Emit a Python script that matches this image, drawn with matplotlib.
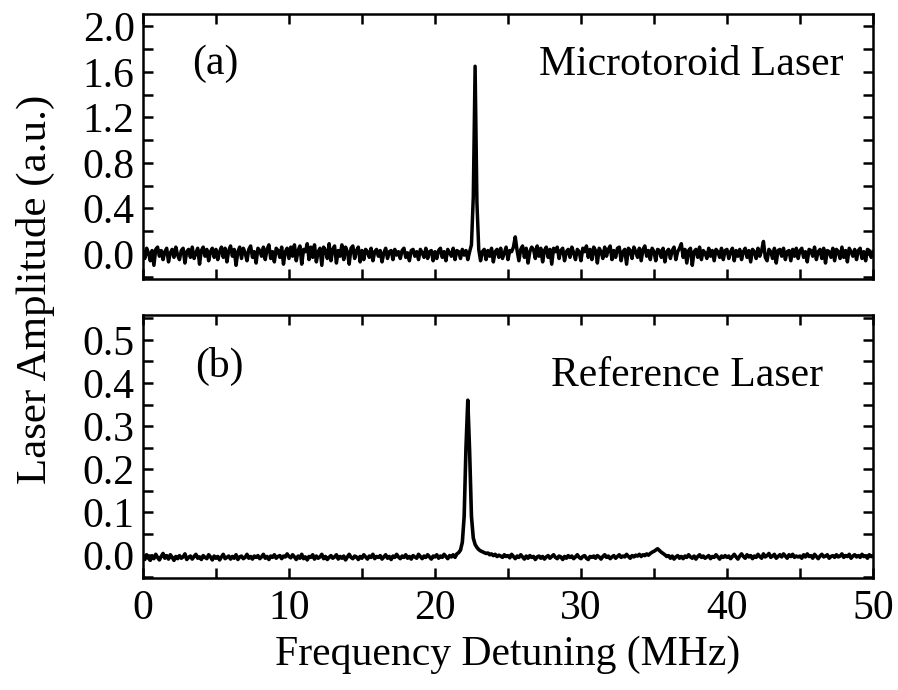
import numpy as np
import matplotlib.pyplot as plt
from matplotlib.ticker import MultipleLocator

# frequency grid (MHz), 0.125 MHz steps
freq = np.linspace(0, 50, 401)

# (a) microtoroid laser amplitude
micro = [
    0.02, -0.04, 0.05, 0.01, -0.06, 0.03, -0.10, 0.04, 0.06, -0.02,
    0.03, -0.05, 0.02, 0.05, -0.07, 0.01, 0.04, -0.03, 0.06, -0.01,
    -0.05, 0.03, 0.05, -0.08, 0.02, 0.04, -0.03, 0.06, -0.04, 0.01,
    0.05, -0.09, 0.03, 0.06, -0.02, 0.04, -0.06, 0.02, 0.05, -0.03,
    0.04, -0.05, 0.02, 0.06, -0.03, 0.05, -0.07, 0.03, 0.07, -0.02,
    0.04, -0.10, 0.02, 0.06, -0.04, 0.05, 0.01, -0.06, 0.04, 0.07,
    -0.03, 0.02, -0.08, 0.05, 0.03, -0.02, 0.06, -0.05, 0.04, 0.08,
    -0.04, 0.02, -0.07, 0.05, 0.03, -0.03, 0.06, -0.09, 0.02, 0.05,
    -0.04, 0.06, -0.02, 0.08, -0.06, 0.03, 0.07, -0.09, 0.04, 0.02,
    0.09, -0.05, 0.06, -0.03, 0.08, -0.07, 0.02, 0.05, -0.10, 0.06,
    0.03, -0.04, 0.09, -0.06, 0.04, 0.07, -0.08, 0.03, -0.02, 0.08,
    -0.05, 0.06, 0.02, -0.09, 0.05, 0.07, -0.04, 0.03, 0.06, -0.07,
    0.03, -0.05, 0.04, 0.02, -0.03, 0.05, -0.06, 0.02, 0.04, -0.02,
    0.03, -0.07, 0.01, 0.05, -0.04, 0.02, 0.03, -0.05, 0.04, -0.01,
    0.02, -0.04, 0.03, 0.05, -0.03, 0.01, -0.06, 0.03, 0.04, -0.02,
    0.02, -0.05, 0.04, 0.01, -0.03, 0.05, -0.04, 0.02, 0.03, -0.06,
    0.02, -0.04, 0.03, 0.05, -0.03, 0.02, -0.06, 0.04, 0.01, -0.02,
    0.05, -0.05, 0.03, 0.02, -0.04, 0.04, -0.01, 0.03, -0.05, 0.02,
    0.08, 0.50, 1.65, 0.45, 0.04, -0.06, 0.02, 0.04, -0.05, 0.03,
    -0.02, 0.05, -0.07, 0.02, 0.04, -0.03, 0.05, -0.04, 0.01, 0.06,
    -0.05, 0.03, 0.02, 0.06, 0.15, 0.03, -0.06, 0.04, 0.07, -0.03,
    0.05, -0.08, 0.02, 0.06, 0.04, -0.04, 0.07, -0.02, 0.05, -0.07,
    0.03, 0.06, -0.03, 0.04, -0.09, 0.05, 0.02, 0.06, -0.04, 0.03,
    0.05, -0.06, 0.02, 0.04, -0.03, 0.06, 0.01, -0.05, 0.04, 0.02,
    -0.06, 0.05, 0.02, 0.07, -0.03, 0.04, -0.05, 0.06, 0.03, -0.08,
    0.05, 0.02, -0.04, 0.06, -0.02, 0.04, 0.07, -0.05, 0.03, -0.03,
    0.05, 0.06, -0.06, 0.02, 0.04, -0.09, 0.05, 0.03, -0.04, 0.06,
    0.02, -0.03, 0.05, -0.06, 0.04, 0.07, -0.02, 0.03, -0.05, 0.05,
    0.02, -0.06, 0.04, 0.03, -0.03, 0.05, -0.07, 0.02, 0.04, -0.04,
    0.03, 0.06, -0.05, 0.02, 0.05, 0.09, -0.03, 0.04, -0.08, 0.03,
    0.05, -0.10, 0.02, 0.04, -0.03, 0.06, -0.05, 0.03, 0.01, -0.04,
    0.05, -0.02, 0.03, -0.06, 0.04, 0.02, -0.03, 0.05, -0.05, 0.03,
    0.04, -0.04, 0.02, 0.05, -0.06, 0.03, -0.02, 0.04, -0.05, 0.02,
    0.05, -0.03, 0.03, -0.07, 0.04, 0.02, -0.04, 0.05, -0.02, 0.03,
    0.11, -0.03, -0.06, 0.04, 0.02, -0.04, 0.05, -0.08, 0.03, 0.04,
    -0.02, 0.05, -0.05, 0.02, 0.03, -0.06, 0.04, -0.02, 0.05, -0.04,
    0.03, 0.05, -0.03, 0.02, -0.07, 0.04, 0.03, -0.02, 0.06, -0.05,
    0.02, 0.04, -0.04, 0.05, -0.08, 0.03, 0.02, -0.03, 0.05, -0.06,
    0.04, 0.02, -0.04, 0.06, -0.03, 0.03, -0.07, 0.05, 0.02, -0.02,
    0.04, -0.05, 0.03, 0.05, -0.04, 0.02, -0.06, 0.04, 0.03, -0.03,
    0.02,
]

# (b) reference laser amplitude
ref = [
    -0.004, -0.010, 0.001, -0.007, -0.012, -0.002, -0.008, 0.002, -0.005, -0.011,
    -0.003, 0.004, -0.007, -0.001, -0.009, 0.001, -0.005, -0.012, -0.003, -0.008,
    -0.001, -0.007, -0.004, 0.003, -0.010, -0.005, -0.002, -0.009, -0.003, 0.002,
    -0.007, -0.004, -0.010, -0.001, -0.005, -0.008, 0.001, -0.004, -0.011, -0.002,
    -0.007, -0.003, -0.011, -0.004, 0.002, -0.008, -0.005, -0.002, -0.009, -0.003,
    -0.007, 0.001, -0.010, -0.004, -0.002, -0.008, -0.005, 0.002, -0.007, -0.003,
    -0.009, -0.002, -0.005, -0.001, -0.008, -0.004, 0.002, -0.007, -0.003, -0.010,
    -0.002, -0.005, 0.001, -0.007, -0.003, -0.001, -0.008, -0.002, -0.004, 0.003,
    -0.003, -0.006, 0.001, -0.004, -0.010, -0.002, -0.007, 0.002, -0.008, -0.004,
    -0.011, -0.003, -0.005, 0.001, -0.009, -0.002, -0.007, -0.004, 0.002, -0.008,
    -0.003, -0.010, -0.005, -0.001, -0.007, -0.004, 0.001, -0.009, -0.003, -0.007,
    -0.002, -0.011, -0.004, 0.002, -0.005, -0.008, -0.002, -0.004, -0.010, -0.003,
    -0.007, 0.001, -0.004, -0.009, -0.002, -0.005, 0.002, -0.008, -0.003, -0.005,
    -0.001, -0.009, -0.004, 0.001, -0.007, -0.003, -0.010, -0.002, -0.005, 0.002,
    -0.004, -0.008, -0.002, -0.005, 0.001, -0.007, -0.003, -0.009, -0.001, -0.004,
    -0.007, 0.002, -0.003, -0.008, -0.002, -0.005, 0.001, -0.004, -0.009, -0.002,
    -0.004, 0.001, -0.007, -0.002, -0.005, 0.002, -0.003, -0.008, -0.001, -0.004,
    0.001, -0.005, 0.003, 0.006, 0.012, 0.030, 0.090, 0.250, 0.360, 0.240,
    0.090, 0.040, 0.025, 0.018, 0.013, 0.010, 0.008, 0.006, 0.004, 0.005,
    0.001, 0.003, -0.001, 0.002, -0.003, 0.000, -0.002, -0.005, 0.001, -0.003,
    -0.001, -0.006, 0.002, -0.003, -0.008, -0.002, -0.005, 0.001, -0.004, -0.009,
    -0.002, -0.007, -0.001, -0.005, -0.003, -0.010, -0.004, -0.002, -0.007, -0.003,
    -0.009, -0.004, -0.001, -0.007, -0.003, 0.001, -0.005, -0.008, -0.002, -0.004,
    -0.010, -0.003, -0.007, -0.001, -0.005, -0.002, -0.008, -0.004, 0.001, -0.005,
    -0.008, -0.003, -0.001, -0.007, -0.010, -0.003, -0.005, -0.002, -0.007, -0.001,
    -0.004, -0.009, -0.003, 0.001, -0.005, -0.002, -0.008, -0.004, -0.001, -0.007,
    -0.003, 0.001, -0.005, -0.002, -0.004, 0.002, -0.003, -0.007, -0.001, -0.004,
    0.000, -0.002, 0.002, -0.003, 0.001, -0.001, 0.003, 0.000, 0.004, 0.007,
    0.009, 0.012, 0.015, 0.011, 0.007, 0.004, 0.001, -0.003, -0.001, -0.007,
    -0.002, -0.009, -0.004, -0.001, -0.007, -0.003, -0.008, -0.002, -0.005, 0.001,
    -0.004, -0.007, -0.002, -0.009, -0.003, 0.001, -0.005, -0.002, -0.007, -0.004,
    -0.001, -0.008, -0.003, -0.005, 0.001, -0.004, -0.009, -0.002, -0.005, -0.001,
    -0.005, -0.002, -0.008, -0.003, 0.002, -0.004, -0.009, -0.002, 0.003, -0.003,
    -0.007, 0.001, -0.004, -0.001, -0.008, -0.002, -0.005, 0.002, -0.003, -0.007,
    0.003, -0.004, -0.001, 0.004, -0.005, -0.002, 0.002, -0.007, -0.003, 0.001,
    -0.004, 0.003, -0.002, -0.007, 0.001, -0.003, 0.002, -0.005, -0.002, -0.004,
    -0.002, -0.007, 0.001, -0.004, 0.003, -0.003, -0.001, -0.007, 0.002, -0.003,
    -0.008, -0.002, 0.002, -0.004, -0.002, 0.001, -0.007, -0.003, -0.001, -0.005,
    0.001, -0.004, -0.002, 0.003, -0.005, -0.001, -0.003, 0.002, -0.007, -0.002,
    0.001, -0.004, -0.001, -0.005, 0.002, -0.003, -0.002, -0.007, 0.001, -0.003,
    -0.003,
]

plt.rcParams['font.family'] = ['Liberation Serif', 'DejaVu Serif']
fs = 30

fig = plt.figure(figsize=(8.98, 6.9), dpi=100)
ax1 = fig.add_axes([0.1592, 0.5957, 0.8129, 0.3841])
ax2 = fig.add_axes([0.1592, 0.1623, 0.8129, 0.3812])

ax1.plot(freq, micro, color='black', linewidth=2.5)
ax2.plot(freq, ref, color='black', linewidth=2.6)

ax1.set_ylim(-0.22, 2.11)
ax1.yaxis.set_major_locator(MultipleLocator(0.4))
ax1.yaxis.set_minor_locator(MultipleLocator(0.2))
ax2.set_ylim(-0.053, 0.558)
ax2.yaxis.set_major_locator(MultipleLocator(0.1))
ax2.yaxis.set_minor_locator(MultipleLocator(0.05))

for ax in (ax1, ax2):
    ax.set_xlim(0, 50)
    ax.xaxis.set_major_locator(MultipleLocator(10))
    ax.xaxis.set_minor_locator(MultipleLocator(5))
    ax.yaxis.set_major_formatter('{x:.1f}')
    ax.tick_params(which='both', direction='in', top=True, right=True,
                   length=7, width=1.8, labelsize=fs)
    ax.tick_params(axis='x', pad=8)
    ax.tick_params(axis='y', pad=6)
    for s in ax.spines.values():
        s.set_linewidth(1.8)

ax1.tick_params(axis='x', labelbottom=False)

ax1.text(0.068, 0.774, '(a)', transform=ax1.transAxes, fontsize=fs)
ax1.text(0.959, 0.770, 'Microtoroid Laser', transform=ax1.transAxes,
         fontsize=fs, ha='right')
ax2.text(0.072, 0.764, '(b)', transform=ax2.transAxes, fontsize=fs)
ax2.text(0.932, 0.730, 'Reference Laser', transform=ax2.transAxes,
         fontsize=fs, ha='right')

ax2.set_xlabel('Frequency Detuning (MHz)', fontsize=fs, labelpad=6)
fig.text(0.040, 0.580, 'Laser Amplitude (a.u.)', rotation=90,
         fontsize=31, ha='center', va='center')

fig.savefig('out.png', dpi=100)
plt.close(fig)
